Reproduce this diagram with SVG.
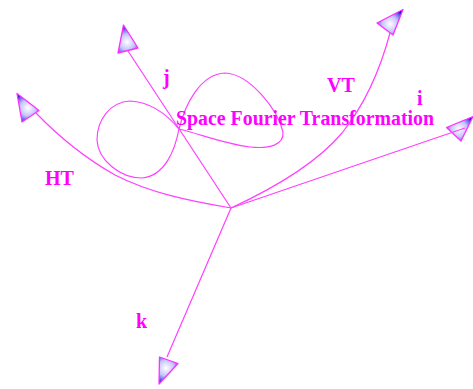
<svg xmlns="http://www.w3.org/2000/svg" width="473" height="389" viewBox="0 0 473 389">
<style>
.c{fill:none;stroke:#ff40ff;stroke-width:1.2}
.h{stroke:#ff30ff;stroke-width:1.3;stroke-linejoin:round}
.t{font-family:"Liberation Serif",serif;font-weight:bold;font-size:20px;fill:#ff00ff}
</style>
<defs>
<radialGradient id="g1" gradientUnits="userSpaceOnUse" cx="28" cy="108" r="16"><stop offset="0" stop-color="#ffffff"/><stop offset=".5" stop-color="#c4c4fc"/><stop offset=".8" stop-color="#6060ec"/><stop offset="1" stop-color="#0000d0"/></radialGradient>
<radialGradient id="g2" gradientUnits="userSpaceOnUse" cx="127" cy="42" r="16"><stop offset="0" stop-color="#ffffff"/><stop offset=".5" stop-color="#c4c4fc"/><stop offset=".8" stop-color="#6060ec"/><stop offset="1" stop-color="#0000d0"/></radialGradient>
<radialGradient id="g3" gradientUnits="userSpaceOnUse" cx="390" cy="24" r="16"><stop offset="0" stop-color="#ffffff"/><stop offset=".5" stop-color="#c4c4fc"/><stop offset=".8" stop-color="#6060ec"/><stop offset="1" stop-color="#0000d0"/></radialGradient>
<radialGradient id="g4" gradientUnits="userSpaceOnUse" cx="459" cy="129" r="16"><stop offset="0" stop-color="#ffffff"/><stop offset=".5" stop-color="#c4c4fc"/><stop offset=".8" stop-color="#6060ec"/><stop offset="1" stop-color="#0000d0"/></radialGradient>
<radialGradient id="g5" gradientUnits="userSpaceOnUse" cx="166" cy="368" r="16"><stop offset="0" stop-color="#ffffff"/><stop offset=".5" stop-color="#c4c4fc"/><stop offset=".8" stop-color="#6060ec"/><stop offset="1" stop-color="#0000d0"/></radialGradient>
</defs>
<g id="arrow-ht"><polygon class="h" fill="url(#g1)" points="17,93.500 22,122 39,110.500"/></g>
<g id="arrow-j"><polygon class="h" fill="url(#g2)" points="123.500,25 118,53 138,48"/></g>
<g id="arrow-vt"><polygon class="h" fill="url(#g3)" points="403,9.500 377,23 393,35"/></g>
<g id="arrow-i"><polygon class="h" fill="url(#g4)" points="473,116.500 446.500,127.500 461,141"/></g>
<g id="arrow-k"><polygon class="h" fill="url(#g5)" points="159.500,357 159,384 178,363.500"/></g>
<g id="connectors">
<path class="c" d="M36 113C62 140 85 158 115 175C150 193 190 201 231 208"/>
<path class="c" d="M128 51L231 208"/>
<path class="c" d="M390 33C378 78 362 108 342 133C315 165 270 190 231 208"/>
<path class="c" d="M465 128L231 208"/>
<path class="c" d="M167 357L231 208"/>
<path class="c" d="M179 129C165 112 148 102 130 101C110 102 97 120 97 140C98 160 120 178 142 178C165 176 175 150 179 129C185 105 200 74 225 73C250 74 278 110 283 132C284 145 270 149 250 147C225 144 200 134 179 129"/>
</g>
<g id="labels">
<text class="t" x="176" y="125" textLength="258" lengthAdjust="spacingAndGlyphs">Space Fourier Transformation</text>
<text class="t" x="45" y="185">HT</text>
<text class="t" x="327" y="92">VT</text>
<text class="t" x="163" y="84">j</text>
<text class="t" x="417" y="105">i</text>
<text class="t" x="136" y="328">k</text>
</g>
</svg>
